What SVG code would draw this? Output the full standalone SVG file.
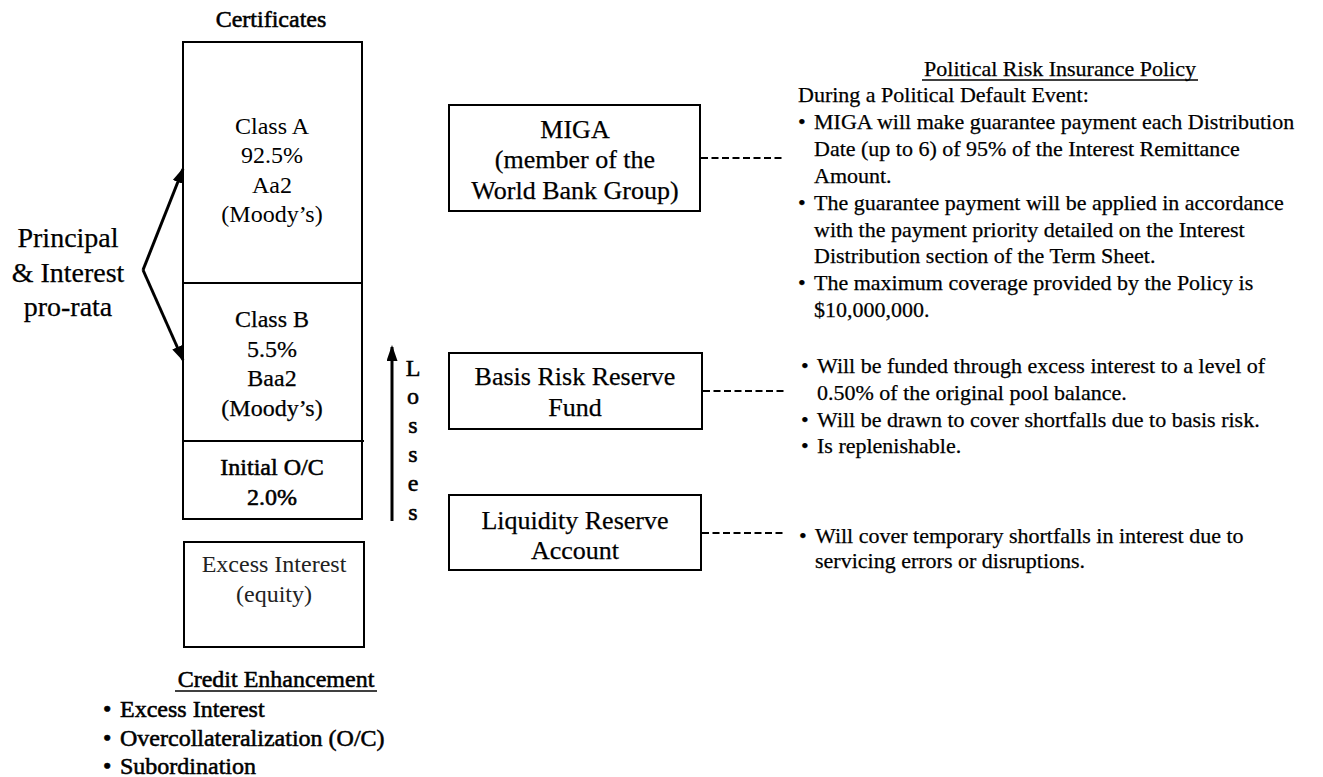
<svg xmlns="http://www.w3.org/2000/svg" width="1323" height="777" viewBox="0 0 1323 777">
<style>
text{font-family:"Liberation Serif","Times New Roman",serif;fill:#000}
.box{fill:none;stroke:#000;stroke-width:2}
.c{text-anchor:middle}
.t24{font-size:24px}
.t26{font-size:26px}
.t22{font-size:22px}
.t28{font-size:28px}
.gray{fill:#222}
.heavy text,text.heavy{stroke:#000;stroke-width:0.55}
.mid text{stroke:#000;stroke-width:0.25}
.dash{stroke:#000;stroke-width:2;stroke-dasharray:7 3.5;fill:none}
.arr{stroke:#000;stroke-width:3;fill:none;marker-end:url(#ah)}
</style>
<defs>
<marker id="ah" markerUnits="userSpaceOnUse" markerWidth="18" markerHeight="12" refX="14" refY="5.5" orient="auto">
<path d="M0,0 L16,5.5 L0,11 z" fill="#000"/>
</marker>
</defs>
<rect width="1323" height="777" fill="#fff"/>

<g id="certificates">
<text class="t24 c heavy" x="271" y="27">Certificates</text>
<rect class="box" x="183" y="42" width="179" height="477"/>
<line x1="183" y1="283" x2="362" y2="283" stroke="#000" stroke-width="2"/>
<line x1="183" y1="441" x2="364" y2="441" stroke="#000" stroke-width="2"/>
</g>
<g id="class-a" class="t24 c gray">
<text x="272" y="134">Class A</text>
<text x="272" y="163">92.5%</text>
<text x="272" y="193">Aa2</text>
<text x="272" y="222">(Moody’s)</text>
</g>
<g id="class-b" class="t24 c mid">
<text x="272" y="327">Class B</text>
<text x="272" y="357">5.5%</text>
<text x="272" y="386">Baa2</text>
<text x="272" y="416">(Moody’s)</text>
</g>
<g id="initial-oc" class="t24 c heavy">
<text x="272" y="475">Initial O/C</text>
<text x="272" y="505">2.0%</text>
</g>
<g id="excess-interest">
<rect class="box" x="184" y="542" width="180" height="105"/>
<text class="t24 c gray" x="274" y="572">Excess Interest</text>
<text class="t24 c gray" x="274" y="602">(equity)</text>
</g>

<g id="principal-label" class="t28 c mid">
<text x="68" y="247">Principal</text>
<text x="68" y="282">&amp; Interest</text>
<text x="68" y="316">pro-rata</text>
</g>

<g id="losses-label" class="t24 c heavy">
<text x="413" y="376">L</text>
<text x="413" y="404">o</text>
<text x="413" y="433">s</text>
<text x="413" y="462">s</text>
<text x="413" y="491">e</text>
<text x="413" y="520">s</text>
</g>

<g id="miga" class="mid">
<rect class="box" x="449" y="105" width="251" height="106"/>
<text class="t26 c" x="575" y="138">MIGA</text>
<text class="t26 c" x="575" y="168">(member of the</text>
<text class="t26 c" x="575" y="199">World Bank Group)</text>
</g>
<g id="basis-risk" class="mid">
<rect class="box" x="449" y="353" width="253" height="76"/>
<text class="t26 c" x="575" y="385">Basis Risk Reserve</text>
<text class="t26 c" x="575" y="416">Fund</text>
</g>
<g id="liquidity" class="mid">
<rect class="box" x="449" y="495" width="252" height="75"/>
<text class="t26 c" x="575" y="529">Liquidity Reserve</text>
<text class="t26 c" x="575" y="559">Account</text>
</g>

<g id="policy-text" class="t22 mid">
<text class="c" x="1060" y="76">Political Risk Insurance Policy</text>
<line x1="922" y1="80" x2="1198" y2="80" stroke="#000" stroke-width="1.3"/>
<text x="798" y="102">During a Political Default Event:</text>
<text x="798" y="129">•</text><text x="814" y="129">MIGA will make guarantee payment each Distribution</text>
<text x="814" y="156">Date (up to 6) of 95% of the Interest Remittance</text>
<text x="814" y="183">Amount.</text>
<text x="798" y="210">•</text><text x="814" y="210">The guarantee payment will be applied in accordance</text>
<text x="814" y="237">with the payment priority detailed on the Interest</text>
<text x="814" y="263">Distribution section of the Term Sheet.</text>
<text x="798" y="290">•</text><text x="814" y="290">The maximum coverage provided by the Policy is</text>
<text x="814" y="317">$10,000,000.</text>
</g>
<g id="basis-text" class="t22 mid">
<text x="801" y="373">•</text><text x="817" y="373">Will be funded through excess interest to a level of</text>
<text x="817" y="400">0.50% of the original pool balance.</text>
<text x="801" y="427">•</text><text x="817" y="427">Will be drawn to cover shortfalls due to basis risk.</text>
<text x="801" y="453">•</text><text x="817" y="453">Is replenishable.</text>
</g>
<g id="liquidity-text" class="t22 mid">
<text x="799" y="543">•</text><text x="815" y="543">Will cover temporary shortfalls in interest due to</text>
<text x="815" y="568">servicing errors or disruptions.</text>
</g>

<g id="credit-enhancement" class="t24 heavy">
<text class="c" x="276" y="687">Credit Enhancement</text>
<line x1="175" y1="691" x2="377" y2="691" stroke="#000" stroke-width="1.5"/>
<text x="103" y="717">•</text><text x="120" y="717">Excess Interest</text>
<text x="103" y="746">•</text><text x="120" y="746">Overcollateralization (O/C)</text>
<text x="103" y="774">•</text><text x="120" y="774">Subordination</text>
</g>

<g id="connectors">
<line class="arr" x1="143" y1="270" x2="183" y2="169"/>
<line class="arr" x1="143" y1="270" x2="183" y2="360"/>
<line class="arr" x1="392" y1="521" x2="392" y2="347"/>
<line class="dash" x1="701" y1="158" x2="784" y2="158"/>
<line class="dash" x1="703" y1="391" x2="786" y2="391"/>
<line class="dash" x1="702" y1="533" x2="785" y2="533"/>
</g>
</svg>
